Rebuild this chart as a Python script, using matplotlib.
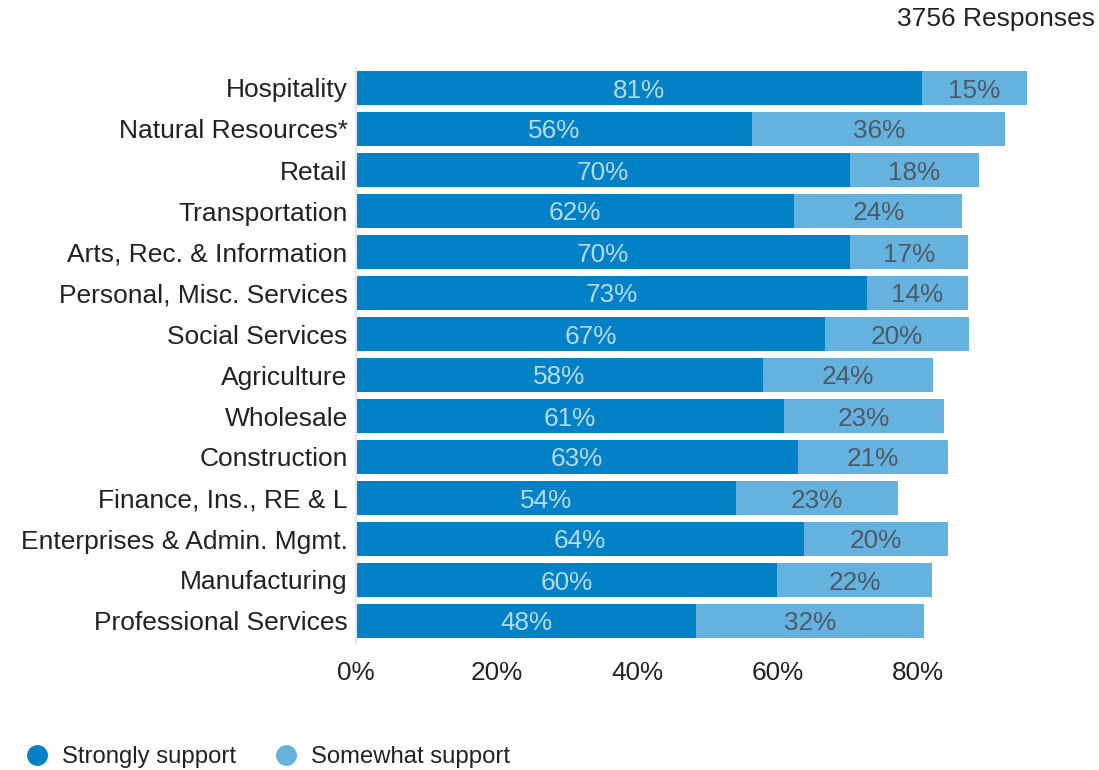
import matplotlib
matplotlib.use("Agg")
import matplotlib.pyplot as plt
from matplotlib.lines import Line2D

plt.rcParams['font.family'] = ['Liberation Sans', 'DejaVu Sans']

industries = ['Hospitality', 'Natural Resources*', 'Retail', 'Transportation',
              'Arts, Rec. & Information', 'Personal, Misc. Services', 'Social Services',
              'Agriculture', 'Wholesale', 'Construction', 'Finance, Ins., RE & L',
              'Enterprises & Admin. Mgmt.', 'Manufacturing', 'Professional Services']
# shares in %, labels shown rounded
strongly = [80.6, 56.4, 70.3, 62.4, 70.3, 72.7, 66.8, 57.9, 60.9, 62.9, 54.1, 63.8, 59.9, 48.4]
somewhat = [14.9, 36.0, 18.4, 23.9, 16.8, 14.4, 20.4, 24.3, 22.8, 21.4, 23.1, 20.4, 22.1, 32.4]
ticks = [0, 20, 40, 60, 80]
n_responses = 3756

DARK = '#0281c6'
LIGHT = '#66b2de'


def pct(v):
    return f"{int(v + 0.5)}%"


fig = plt.figure(figsize=(10.99, 7.70), dpi=100)
ax = fig.add_axes([356/1099, 1 - 641.5/770, (1058.5-356)/1099, (641.5-67.5)/770])

y = list(range(len(industries)))
ax.barh(y, strongly, height=0.85, color=DARK)
ax.barh(y, somewhat, left=strongly, height=0.85, color=LIGHT)

for i, (s, w) in enumerate(zip(strongly, somewhat)):
    ax.text(s / 2, i, pct(s), ha='center', va='center_baseline', fontsize=18.8, color='#b5daf1')
    ax.text(s + w / 2, i, pct(w), ha='center', va='center_baseline', fontsize=18.8, color='#4d5a66')

ax.set_ylim(len(industries) - 0.5, -0.5)
ax.set_xlim(0, 100)
ax.set_yticks(y)
ax.set_yticklabels(industries, fontsize=19, color='#222222')
ax.set_xticks(ticks)
ax.set_xticklabels([f"{t}%" for t in ticks], fontsize=18.8, color='#222222')
ax.tick_params(length=0, pad=6)
ax.tick_params(axis='x', pad=14)
for side in ['top', 'right', 'bottom']:
    ax.spines[side].set_visible(False)
ax.spines['left'].set_color('#e6e6e6')
ax.spines['left'].set_linewidth(1.5)

fig.text(1095/1099, 1 - 19/770, f"{n_responses} Responses", ha='right', va='center',
         fontsize=19, color='#222222')

handles = [Line2D([], [], marker='o', linestyle='', markersize=14, color=DARK),
           Line2D([], [], marker='o', linestyle='', markersize=14, color=LIGHT)]
fig.legend(handles, ['Strongly support', 'Somewhat support'], loc='center left',
           bbox_to_anchor=(1/1099, 1 - 757/770), ncol=2, frameon=False, fontsize=17.2,
           handletextpad=0.45, columnspacing=1.5, handlelength=1.2,
           labelcolor='#222222')

fig.savefig('out.png', dpi=100)
